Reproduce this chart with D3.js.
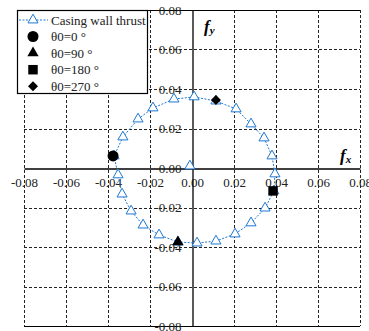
<!DOCTYPE html>
<html>
<head>
<meta charset="utf-8">
<script src="https://cdn.jsdelivr.net/npm/d3@7"></script>
<style>
body { margin: 0; background: #fff; }
</style>
</head>
<body>
<div id="chart"></div>
<script>
// casing wall thrust, 24 points around the ring (every 15 deg)
var thrustX = [0.0010, 0.0114, 0.0210, 0.0281, 0.0343, 0.0381, 0.0395, 0.0390, 0.0348, 0.0281, 0.0205, 0.0114,
               0.0024, -0.0067, -0.0157, -0.0233, -0.0290, -0.0333, -0.0352, -0.0371, -0.0329, -0.0257, -0.0186, -0.0086];
var thrustY = [0.0360, 0.0339, 0.0299, 0.0223, 0.0152, 0.0061, -0.0030, -0.0116, -0.0203, -0.0278, -0.0334, -0.0370,
               -0.0380, -0.0375, -0.0339, -0.0289, -0.0218, -0.0132, -0.0035, 0.0061, 0.0157, 0.0248, 0.0304, 0.0349];
var originPoint = [-0.001, 0.001];

var thetaNames = ["θ0=0 °", "θ0=90 °", "θ0=180 °", "θ0=270 °"];
var thetaX = [-0.0376, -0.0067, 0.0386, 0.0114];
var thetaY = [0.0061, -0.0375, -0.0116, 0.0344];

var xTicks = [-0.08, -0.06, -0.04, -0.02, 0, 0.02, 0.04, 0.06, 0.08];
var yTicks = [-0.08, -0.06, -0.04, -0.02, 0, 0.02, 0.04, 0.06, 0.08];
var tickLabels = ["-0.08", "-0.06", "-0.04", "-0.02", "0.00", "0.02", "0.04", "0.06", "0.08"];

var W = 369, H = 331;
var blue = "#1e78d2";
var serif = "Liberation Serif";

var svg = d3.select("#chart").append("svg").attr("width", W).attr("height", H)
        .attr("font-family", serif);

var x = d3.scaleLinear().domain([-0.08, 0.08]).range([24, 360]);
var y = d3.scaleLinear().domain([-0.08, 0.08]).range([326, 10]);

// grid
var grid = svg.append("g");
grid.selectAll(".gx")
        .data(xTicks.filter(function (d) { return d !== 0; }))
        .enter().append("line")
        .attr("x1", function (d) { return Math.round(x(d)) + 0.5; })
        .attr("x2", function (d) { return Math.round(x(d)) + 0.5; })
        .attr("y1", y(0.08)).attr("y2", y(-0.08))
        .attr("stroke", "#222").attr("stroke-width", 1)
        .attr("stroke-dasharray", "3,2");
grid.selectAll(".gy")
        .data(yTicks.filter(function (d) { return Math.abs(d) !== 0.08 && d !== 0; }))
        .enter().append("line")
        .attr("y1", function (d) { return Math.round(y(d)) + 0.5; })
        .attr("y2", function (d) { return Math.round(y(d)) + 0.5; })
        .attr("x1", x(-0.08)).attr("x2", x(0.08))
        .attr("stroke", "#222").attr("stroke-width", 1)
        .attr("stroke-dasharray", "3,2");

// top and bottom frame lines
[0.08, -0.08].forEach(function (v) {
    svg.append("line")
            .attr("x1", x(-0.08)).attr("x2", x(0.08))
            .attr("y1", Math.round(y(v)) + 0.5).attr("y2", Math.round(y(v)) + 0.5)
            .attr("stroke", "#000").attr("stroke-width", 1.2);
});

// axes through the origin
var xAxis = svg.append("g")
        .attr("transform", "translate(0," + (Math.round(y(0)) + 0.5) + ")")
        .call(d3.axisBottom(x).tickValues(xTicks).tickSize(0).tickPadding(9)
                .tickFormat(function (d, i) { return tickLabels[i]; }));
xAxis.select(".domain").attr("stroke", "#000").attr("stroke-width", 1.3);

var yAxis = svg.append("g")
        .attr("transform", "translate(" + (Math.round(x(0)) + 0.5) + ",0)")
        .call(d3.axisLeft(y).tickValues(yTicks).tickSize(0).tickPadding(11)
                .tickFormat(function (d, i) { return tickLabels[i]; }));
yAxis.select(".domain").attr("stroke", "#000").attr("stroke-width", 1.3);

svg.selectAll("g").attr("font-family", serif);
svg.selectAll(".tick text")
        .attr("font-size", 13)
        .attr("fill", "#222");

// axis names
var fx = svg.append("text").attr("x", 340).attr("y", 161)
        .attr("font-size", 17).attr("font-style", "italic").attr("font-weight", "bold");
fx.append("tspan").text("f");
fx.append("tspan").attr("font-size", 11).attr("dy", 2).text("x");

var fy = svg.append("text").attr("x", 204).attr("y", 32)
        .attr("font-size", 17).attr("font-style", "italic").attr("font-weight", "bold");
fy.append("tspan").text("f");
fy.append("tspan").attr("font-size", 11).attr("dy", 2).text("y");

// thrust ring
var ring = thrustX.map(function (v, i) { return [v, thrustY[i]]; });

var line = d3.line()
        .x(function (d) { return x(d[0]); })
        .y(function (d) { return y(d[1]); })
        .curve(d3.curveLinearClosed);

svg.append("path")
        .datum(ring)
        .attr("fill", "none")
        .attr("stroke", blue)
        .attr("stroke-width", 1)
        .attr("stroke-dasharray", "2,1.5")
        .attr("d", line);

var tri = d3.symbol().type(d3.symbolTriangle).size(44);
svg.append("g").selectAll("path")
        .data(ring.concat([originPoint]))
        .enter().append("path")
        .attr("d", tri)
        .attr("transform", function (d) { return "translate(" + x(d[0]) + "," + y(d[1]) + ")"; })
        .attr("fill", "#fff")
        .attr("stroke", blue)
        .attr("stroke-width", 1);

// theta0 markers
var shapes = [
    d3.symbol().type(d3.symbolCircle).size(95),
    d3.symbol().type(d3.symbolTriangle).size(55),
    d3.symbol().type(d3.symbolSquare).size(90),
    d3.symbol().type(d3.symbolSquare).size(50)
];
var rot = [0, 0, 0, 45];

svg.append("g").selectAll("path")
        .data(thetaNames)
        .enter().append("path")
        .attr("d", function (d, i) { return shapes[i](); })
        .attr("transform", function (d, i) {
            return "translate(" + x(thetaX[i]) + "," + y(thetaY[i]) + ") rotate(" + rot[i] + ")";
        })
        .attr("fill", "#000");

// legend
var legend = svg.append("g");
legend.append("rect")
        .attr("x", 17.5).attr("y", 10.5).attr("width", 130).attr("height", 83)
        .attr("fill", "#fff").attr("stroke", "#000").attr("stroke-width", 1.2);

legend.append("line")
        .attr("x1", 19).attr("x2", 48).attr("y1", 20).attr("y2", 20)
        .attr("stroke", blue).attr("stroke-dasharray", "2,1.5");
legend.append("path")
        .attr("d", tri)
        .attr("transform", "translate(33,20)")
        .attr("fill", "#fff").attr("stroke", blue);
legend.append("text")
        .attr("x", 51).attr("y", 24.5)
        .attr("font-size", 13).attr("fill", "#222")
        .text("Casing wall thrust");

var rows = legend.selectAll(".row")
        .data(thetaNames)
        .enter().append("g")
        .attr("transform", function (d, i) { return "translate(0," + (36.5 + i * 16.6) + ")"; });
rows.append("path")
        .attr("d", function (d, i) { return shapes[i](); })
        .attr("transform", function (d, i) { return "translate(33,0) rotate(" + rot[i] + ")"; })
        .attr("fill", "#000");
rows.append("text")
        .attr("x", 51).attr("y", 4.5)
        .attr("font-size", 13).attr("fill", "#222")
        .text(function (d) { return d; });
</script>
</body>
</html>
